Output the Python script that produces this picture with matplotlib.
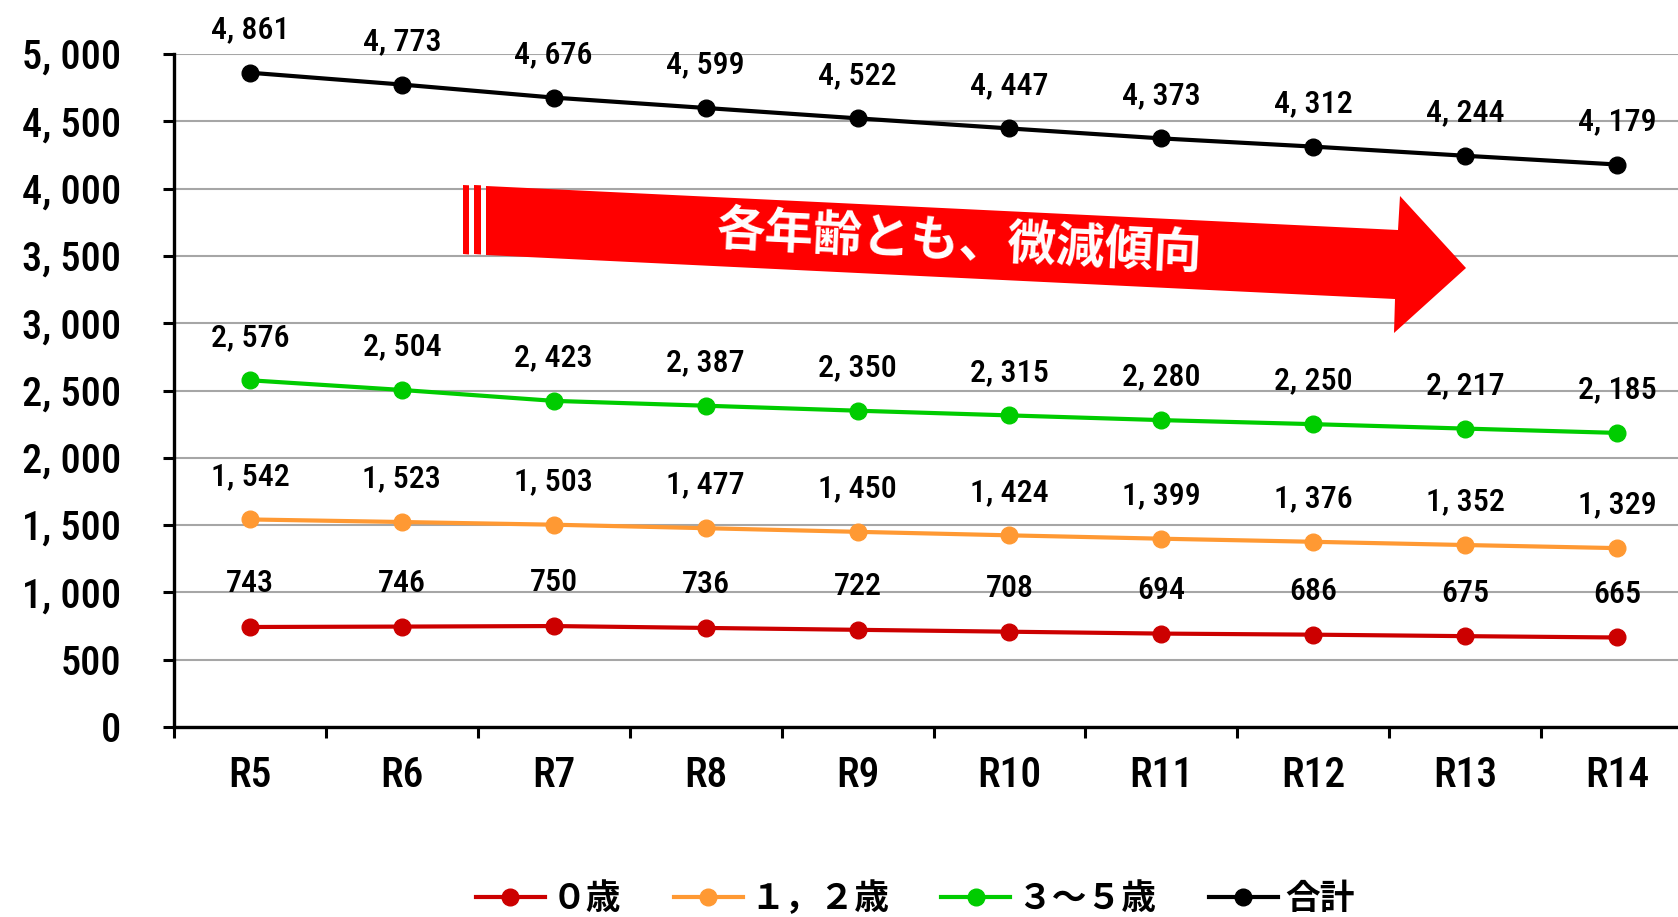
import matplotlib
matplotlib.use("Agg")
import matplotlib.pyplot as plt
from matplotlib.patches import Polygon
from matplotlib.lines import Line2D

categories = ["R5", "R6", "R7", "R8", "R9", "R10", "R11", "R12", "R13", "R14"]
age0 = [743, 746, 750, 736, 722, 708, 694, 686, 675, 665]
age12 = [1542, 1523, 1503, 1477, 1450, 1424, 1399, 1376, 1352, 1329]
age35 = [2576, 2504, 2423, 2387, 2350, 2315, 2280, 2250, 2217, 2185]
total = [4861, 4773, 4676, 4599, 4522, 4447, 4373, 4312, 4244, 4179]
series_names = ["０歳", "１，２歳", "３～５歳", "合計"]
colors = ["#CC0000", "#FF9933", "#00CC00", "#000000"]
yticks = list(range(0, 5001, 500))
arrow_text = "各年齢とも、微減傾向"

NUM_FONT = ["Roboto Condensed", "Noto Sans CJK JP", "DejaVu Sans"]
JP_FONT = ["Noto Sans CJK JP", "DejaVu Sans"]

W, H = 1678, 917
fig = plt.figure(figsize=(W / 100, H / 100), dpi=100)
ax = fig.add_axes([174 / W, 1 - 727 / H, (1693 - 174) / W, (727 - 54) / H])

x = list(range(len(categories)))
for vals, col, name in zip([age0, age12, age35, total], colors, series_names):
    ax.plot(x, vals, color=col, lw=3, marker="o", ms=12, label=name, zorder=3,
            solid_capstyle="round")
    for xi, v in zip(x, vals):
        ax.annotate("{:,}".format(v).replace(",", ", "), (xi, v), xytext=(0, 31),
                    textcoords="offset points", ha="center", va="center",
                    fontsize=23, family=NUM_FONT, fontweight=500, zorder=4)

ax.set_xlim(-0.5, len(categories) - 0.5)
ax.set_ylim(0, 5000)
ax.set_yticks(yticks)
ax.set_yticklabels(["{:,}".format(t).replace(",", ", ") for t in yticks],
                   family=NUM_FONT, fontsize=29, fontweight=500)
ax.set_xticks([i - 0.5 for i in range(len(categories) + 1)], minor=False)
ax.set_xticklabels([])
ax.set_xticks(x, minor=True)
ax.set_xticklabels(categories, minor=True, family=NUM_FONT, fontsize=30, fontweight=500)
ax.tick_params(axis="x", which="minor", length=0, pad=20)
ax.tick_params(axis="x", which="major", length=8, width=2.2, direction="out")
ax.tick_params(axis="y", length=8, width=2.2, direction="out", pad=30)
ax.grid(axis="y", color="#A6A6A6", lw=1.5, zorder=0)
for s in ["top", "right"]:
    ax.spines[s].set_visible(False)
for s in ["left", "bottom"]:
    ax.spines[s].set_linewidth(2.4)
    ax.spines[s].set_zorder(5)

# Arrow decoration (figure pixel coordinates)
def P(px, py):
    return (px / W, 1 - py / H)

body = [P(486, 186), P(1398, 230), P(1400, 196), P(1466, 268), P(1394, 333),
        P(1395, 299), P(486, 255)]
fig.patches.append(Polygon(body, closed=True, transform=fig.transFigure,
                           facecolor="#FF0000", edgecolor="none", zorder=6))
for x0, x1 in [(463, 469), (474, 481)]:
    stripe = [P(x0, 185), P(x1, 185.3), P(x1, 254.5), P(x0, 254)]
    fig.patches.append(Polygon(stripe, closed=True, transform=fig.transFigure,
                               facecolor="#FF0000", edgecolor="none", zorder=6))
fig.text(960 / W, 1 - 242 / H, arrow_text, ha="center", va="center",
         rotation=-2.8, color="white", fontsize=35, fontweight="bold",
         family=JP_FONT, zorder=7)

handles = [Line2D([0], [0], color=c, lw=3, marker="o", ms=12) for c in colors]
fig.legend(handles, series_names, loc="center", bbox_to_anchor=(915 / W, 1 - 899 / H),
           ncol=4, frameon=False, prop={"family": JP_FONT, "size": 25, "weight": "bold"},
           handlelength=2.0, handletextpad=0.2, columnspacing=1.5)

fig.savefig("out.png", dpi=100)
